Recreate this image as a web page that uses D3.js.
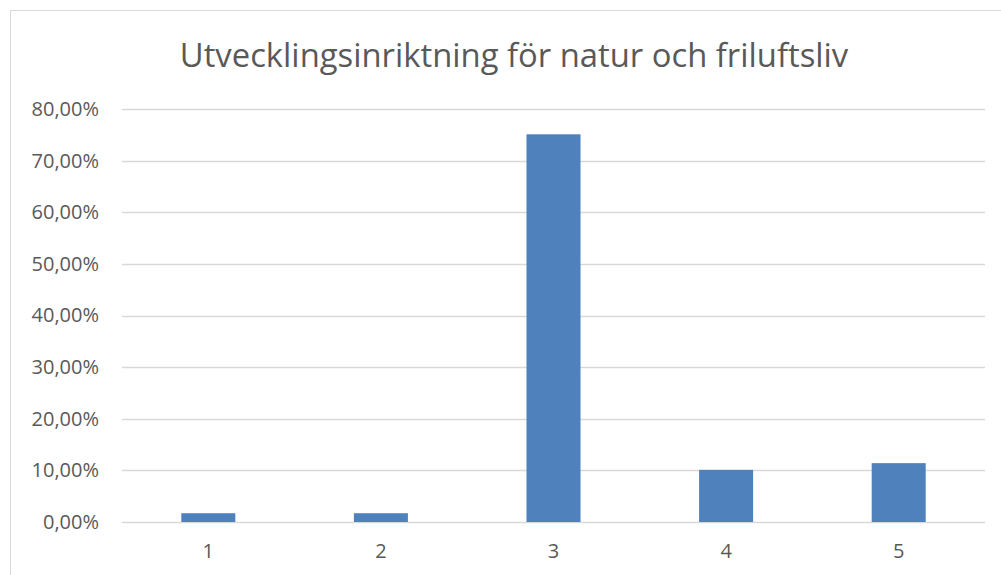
<!DOCTYPE html>
<html>
<head>
<meta charset="utf-8">
<script src="https://cdn.jsdelivr.net/npm/d3@7"></script>
<style>
	body { margin: 0; background: #fff; }
	svg { display: block; }
	svg text { font-family: "Open Sans", "Liberation Sans", sans-serif; }
</style>
</head>
<body>
<div id="chart"></div>
<script>
const title = 'Utvecklingsinriktning för natur och friluftsliv';
const categories = ['1', '2', '3', '4', '5'];
const values = [0.017, 0.017, 0.751, 0.101, 0.114];
const yTicks = [0, 0.1, 0.2, 0.3, 0.4, 0.5, 0.6, 0.7, 0.8];

const width = 1001;
const height = 575;
const margin = { top: 109, right: 16, bottom: 53, left: 122 };

const svg = d3.select('#chart')
	.append('svg')
		.attr('width', width)
		.attr('height', height);

// chart border
svg.append('rect')
	.attr('x', 10.5)
	.attr('y', 10.5)
	.attr('width', width + 20)
	.attr('height', height + 20)
	.attr('fill', 'none')
	.attr('stroke', '#d9d9d9');

const x = d3.scaleBand()
	.domain(categories)
	.range([margin.left, width - margin.right])
	.paddingInner(0.687)
	.paddingOuter(0.3435);

const y = d3.scaleLinear()
	.domain([0, 0.8])
	.range([height - margin.bottom, margin.top]);

const fmt = d => d3.format('.2f')(d * 100).replace('.', ',') + '%';

// gridlines
svg.append('g')
	.selectAll('line')
	.data(yTicks)
	.enter().append('line')
		.attr('x1', margin.left)
		.attr('x2', width - margin.right)
		.attr('y1', d => Math.round(y(d)) + 0.5)
		.attr('y2', d => Math.round(y(d)) + 0.5)
		.attr('stroke', '#d9d9d9')
		.attr('stroke-width', 1.3);

const yAxis = d3.axisLeft(y)
	.tickValues(yTicks)
	.tickFormat(fmt)
	.tickSize(0)
	.tickPadding(23);

svg.append('g')
	.attr('transform', `translate(${margin.left}, 0)`)
	.call(yAxis)
	.call(g => g.select('.domain').remove())
	.call(g => g.selectAll('text')
		.attr('fill', '#595959')
		.style('font-size', '20px'));

// bars
svg.append('g')
	.selectAll('rect')
	.data(values)
	.enter().append('rect')
		.attr('x', (d, i) => x(categories[i]))
		.attr('y', d => y(d))
		.attr('width', x.bandwidth())
		.attr('height', d => y(0) - y(d))
		.attr('fill', '#4f81bd');

const xAxis = d3.axisBottom(x)
	.tickSize(0)
	.tickPadding(22);

svg.append('g')
	.attr('transform', `translate(0, ${height - margin.bottom})`)
	.call(xAxis)
	.call(g => g.select('.domain').remove())
	.call(g => g.selectAll('text')
		.attr('fill', '#595959')
		.style('font-size', '20px'));

svg.append('text')
	.attr('x', 514)
	.attr('y', 67)
	.attr('text-anchor', 'middle')
	.attr('fill', '#595959')
	.style('font-size', '32.8px')
	.text(title);
</script>
</body>
</html>
